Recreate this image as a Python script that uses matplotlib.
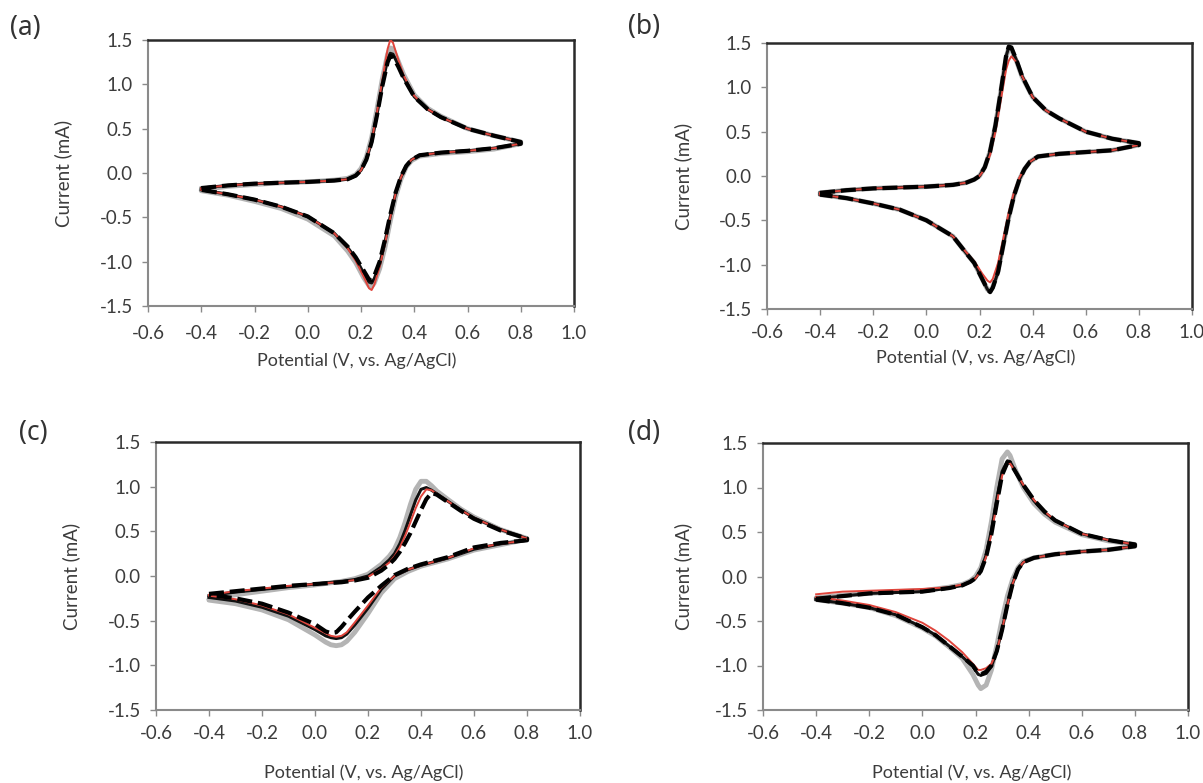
import matplotlib
matplotlib.use("Agg")
import matplotlib.pyplot as plt

plt.rcParams['font.family'] = ['Lato', 'DejaVu Sans']

# ---------------- data ----------------
# Panel (a)
Ea = [-0.4, -0.3, -0.2, -0.1, 0.0, 0.1, 0.15, 0.18, 0.20, 0.22, 0.24, 0.26, 0.28, 0.30, 0.31, 0.32, 0.34, 0.36, 0.40, 0.45, 0.50, 0.60, 0.70, 0.80,
      0.80, 0.70, 0.60, 0.50, 0.42, 0.39, 0.37, 0.35, 0.33, 0.31, 0.29, 0.27, 0.25, 0.24, 0.23, 0.21, 0.18, 0.15, 0.10, 0.0, -0.1, -0.2, -0.3, -0.4]
a_gray = [-0.19, -0.15, -0.13, -0.11, -0.10, -0.08, -0.06, -0.02, 0.05, 0.18, 0.40, 0.72, 1.06, 1.34, 1.41, 1.40, 1.26, 1.11, 0.88, 0.73, 0.64, 0.50, 0.42, 0.35,
          0.33, 0.27, 0.24, 0.22, 0.19, 0.14, 0.07, -0.07, -0.27, -0.54, -0.84, -1.08, -1.24, -1.28, -1.27, -1.18, -1.01, -0.88, -0.71, -0.52, -0.40, -0.32, -0.25, -0.20]
a_black = [-0.17, -0.14, -0.12, -0.11, -0.10, -0.085, -0.07, -0.03, 0.03, 0.15, 0.35, 0.66, 1.00, 1.28, 1.35, 1.34, 1.22, 1.08, 0.86, 0.72, 0.63, 0.50, 0.42, 0.35,
           0.33, 0.28, 0.25, 0.23, 0.20, 0.15, 0.08, -0.05, -0.23, -0.49, -0.78, -1.03, -1.19, -1.24, -1.23, -1.13, -0.96, -0.84, -0.68, -0.49, -0.38, -0.30, -0.24, -0.19]
a_red = [-0.17, -0.14, -0.12, -0.11, -0.10, -0.085, -0.07, -0.03, 0.03, 0.15, 0.36, 0.68, 1.05, 1.40, 1.50, 1.47, 1.28, 1.10, 0.87, 0.72, 0.63, 0.50, 0.42, 0.35,
         0.33, 0.28, 0.25, 0.23, 0.20, 0.15, 0.08, -0.05, -0.23, -0.50, -0.80, -1.06, -1.26, -1.32, -1.30, -1.17, -0.99, -0.85, -0.68, -0.49, -0.38, -0.30, -0.24, -0.19]
a_dash = [-0.17, -0.14, -0.12, -0.11, -0.10, -0.085, -0.07, -0.03, 0.03, 0.15, 0.35, 0.65, 0.98, 1.25, 1.32, 1.31, 1.20, 1.07, 0.86, 0.72, 0.63, 0.50, 0.42, 0.35,
          0.33, 0.28, 0.25, 0.23, 0.20, 0.15, 0.08, -0.04, -0.22, -0.47, -0.75, -1.00, -1.16, -1.21, -1.20, -1.10, -0.95, -0.83, -0.68, -0.49, -0.38, -0.30, -0.24, -0.19]

# Panel (b)
Eb = Ea
b_gray = [-0.19, -0.16, -0.14, -0.13, -0.12, -0.10, -0.075, -0.04, 0.00, 0.10, 0.28, 0.57, 0.95, 1.34, 1.44, 1.43, 1.29, 1.12, 0.89, 0.74, 0.65, 0.50, 0.42, 0.37,
          0.35, 0.29, 0.27, 0.25, 0.22, 0.16, 0.08, -0.04, -0.22, -0.47, -0.77, -1.07, -1.25, -1.30, -1.28, -1.16, -0.98, -0.87, -0.68, -0.50, -0.38, -0.31, -0.25, -0.21]
b_black = [-0.19, -0.16, -0.14, -0.13, -0.12, -0.10, -0.075, -0.04, 0.00, 0.10, 0.28, 0.57, 0.95, 1.35, 1.45, 1.44, 1.30, 1.13, 0.89, 0.74, 0.65, 0.50, 0.42, 0.37,
           0.35, 0.29, 0.27, 0.25, 0.22, 0.16, 0.08, -0.04, -0.22, -0.47, -0.77, -1.08, -1.26, -1.30, -1.28, -1.16, -0.98, -0.87, -0.68, -0.50, -0.38, -0.31, -0.25, -0.21]
b_red = [-0.19, -0.16, -0.14, -0.13, -0.12, -0.10, -0.075, -0.04, 0.00, 0.08, 0.24, 0.50, 0.85, 1.20, 1.30, 1.35, 1.28, 1.13, 0.89, 0.74, 0.65, 0.50, 0.42, 0.37,
         0.35, 0.29, 0.27, 0.25, 0.22, 0.16, 0.09, -0.02, -0.18, -0.41, -0.70, -0.98, -1.16, -1.20, -1.18, -1.10, -0.96, -0.86, -0.68, -0.50, -0.38, -0.31, -0.25, -0.21]
b_dash = [-0.19, -0.16, -0.14, -0.13, -0.12, -0.10, -0.075, -0.04, 0.00, 0.10, 0.28, 0.57, 0.95, 1.35, 1.46, 1.45, 1.30, 1.13, 0.89, 0.74, 0.65, 0.50, 0.42, 0.37,
          0.35, 0.29, 0.27, 0.25, 0.22, 0.16, 0.08, -0.04, -0.22, -0.47, -0.77, -1.08, -1.26, -1.31, -1.28, -1.16, -0.98, -0.87, -0.68, -0.50, -0.38, -0.31, -0.25, -0.21]

# Panel (c)
Ec = [-0.4, -0.3, -0.2, -0.1, 0.0, 0.1, 0.15, 0.2, 0.25, 0.28, 0.30, 0.32, 0.34, 0.36, 0.38, 0.40, 0.42, 0.44, 0.46, 0.50, 0.55, 0.60, 0.70, 0.80,
      0.80, 0.70, 0.60, 0.50, 0.40, 0.35, 0.30, 0.25, 0.20, 0.15, 0.12, 0.10, 0.08, 0.06, 0.04, 0.0, -0.1, -0.2, -0.3, -0.4]
c_gray = [-0.26, -0.21, -0.17, -0.13, -0.10, -0.06, -0.03, 0.02, 0.13, 0.22, 0.30, 0.43, 0.60, 0.80, 0.97, 1.06, 1.06, 1.01, 0.95, 0.86, 0.75, 0.66, 0.52, 0.42,
          0.41, 0.35, 0.29, 0.19, 0.11, 0.05, -0.03, -0.19, -0.42, -0.63, -0.73, -0.77, -0.78, -0.77, -0.74, -0.66, -0.49, -0.38, -0.31, -0.27]
c_black = [-0.22, -0.18, -0.15, -0.12, -0.09, -0.06, -0.04, 0.00, 0.10, 0.18, 0.25, 0.36, 0.51, 0.68, 0.85, 0.97, 0.99, 0.96, 0.92, 0.84, 0.74, 0.65, 0.52, 0.42,
           0.40, 0.36, 0.30, 0.20, 0.12, 0.07, 0.00, -0.15, -0.36, -0.55, -0.65, -0.69, -0.70, -0.69, -0.67, -0.60, -0.45, -0.35, -0.28, -0.24]
c_red = [-0.21, -0.17, -0.14, -0.11, -0.09, -0.065, -0.045, -0.01, 0.08, 0.15, 0.22, 0.32, 0.45, 0.60, 0.76, 0.89, 0.97, 0.96, 0.92, 0.84, 0.74, 0.65, 0.52, 0.42,
         0.40, 0.36, 0.31, 0.20, 0.12, 0.07, 0.00, -0.13, -0.33, -0.52, -0.63, -0.67, -0.68, -0.67, -0.64, -0.58, -0.43, -0.33, -0.26, -0.22]
c_dash = [-0.20, -0.17, -0.14, -0.11, -0.09, -0.07, -0.05, -0.02, 0.06, 0.13, 0.19, 0.27, 0.37, 0.48, 0.61, 0.74, 0.86, 0.93, 0.91, 0.83, 0.73, 0.64, 0.51, 0.42,
          0.40, 0.37, 0.32, 0.21, 0.13, 0.08, 0.01, -0.11, -0.24, -0.40, -0.50, -0.57, -0.63, -0.64, -0.62, -0.54, -0.41, -0.31, -0.25, -0.21]

# Panel (d)
Ed = [-0.4, -0.3, -0.2, -0.1, 0.0, 0.1, 0.15, 0.18, 0.20, 0.22, 0.24, 0.26, 0.28, 0.30, 0.32, 0.33, 0.35, 0.38, 0.42, 0.46, 0.50, 0.60, 0.70, 0.80,
      0.80, 0.70, 0.60, 0.50, 0.42, 0.38, 0.36, 0.34, 0.32, 0.30, 0.28, 0.26, 0.24, 0.22, 0.21, 0.19, 0.15, 0.10, 0.05, 0.0, -0.1, -0.2, -0.3, -0.4]
d_gray = [-0.24, -0.21, -0.19, -0.17, -0.16, -0.12, -0.09, -0.05, 0.00, 0.10, 0.30, 0.62, 1.00, 1.32, 1.40, 1.36, 1.20, 1.00, 0.82, 0.70, 0.61, 0.47, 0.40, 0.36,
          0.34, 0.30, 0.28, 0.25, 0.21, 0.17, 0.10, -0.03, -0.22, -0.48, -0.78, -1.05, -1.22, -1.26, -1.22, -1.10, -0.92, -0.79, -0.67, -0.58, -0.44, -0.35, -0.30, -0.26]
d_black = [-0.25, -0.22, -0.19, -0.18, -0.17, -0.13, -0.10, -0.06, -0.02, 0.07, 0.24, 0.52, 0.87, 1.18, 1.30, 1.29, 1.18, 1.02, 0.85, 0.72, 0.63, 0.48, 0.41, 0.36,
           0.34, 0.30, 0.28, 0.25, 0.21, 0.16, 0.08, -0.08, -0.32, -0.60, -0.84, -1.01, -1.09, -1.11, -1.10, -1.01, -0.90, -0.78, -0.66, -0.57, -0.43, -0.35, -0.30, -0.26]
d_red = [-0.20, -0.17, -0.16, -0.15, -0.14, -0.12, -0.09, -0.06, -0.02, 0.06, 0.22, 0.48, 0.82, 1.13, 1.27, 1.27, 1.18, 1.03, 0.86, 0.73, 0.63, 0.48, 0.41, 0.36,
         0.34, 0.30, 0.28, 0.25, 0.21, 0.16, 0.08, -0.08, -0.32, -0.60, -0.84, -0.98, -1.03, -1.05, -1.05, -0.98, -0.85, -0.72, -0.61, -0.52, -0.40, -0.32, -0.27, -0.23]
d_dash = [-0.25, -0.22, -0.19, -0.18, -0.17, -0.13, -0.10, -0.06, -0.02, 0.06, 0.22, 0.48, 0.82, 1.14, 1.28, 1.28, 1.18, 1.03, 0.86, 0.73, 0.63, 0.48, 0.41, 0.36,
          0.34, 0.30, 0.28, 0.25, 0.21, 0.16, 0.08, -0.08, -0.32, -0.60, -0.84, -1.00, -1.07, -1.10, -1.09, -1.00, -0.90, -0.78, -0.66, -0.57, -0.43, -0.35, -0.30, -0.26]

x_ticks = [-0.6, -0.4, -0.2, 0.0, 0.2, 0.4, 0.6, 0.8, 1.0]
y_ticks = [-1.5, -1.0, -0.5, 0.0, 0.5, 1.0, 1.5]
x_label = "Potential (V, vs. Ag/AgCl)"
y_label = "Current (mA)"
panel_letters = ["(a)", "(b)", "(c)", "(d)"]

# ---------------- figure ----------------
W, H = 1203, 783
fig = plt.figure(figsize=(W / 100, H / 100), dpi=100)

# axes boxes in pixels: left, right, top, bottom
boxes = [(148, 574, 40, 306), (767, 1192, 43, 309), (156, 580, 442, 710), (763, 1188, 443, 710)]
letter_pos = [(25, 28), (644, 27), (33, 433), (644, 433)]
xpads = [10.0, 7.0, 6.5, 7.0]
xlabel_y = [361, 358, 773, 773]
ylabel_x = [63, 683, 71, 683]

panels = [
    (Ea, a_gray, a_black, a_red, a_dash),
    (Eb, b_gray, b_black, b_red, b_dash),
    (Ec, c_gray, c_black, c_red, c_dash),
    (Ed, d_gray, d_black, d_red, d_dash),
]

txt_col = "#3c3c3c"
for i, (box, data) in enumerate(zip(boxes, panels)):
    l, r, t, b = box
    ax = fig.add_axes([l / W, 1 - b / H, (r - l) / W, (b - t) / H])
    E, g, k, rd, ds = data
    ax.plot(E, g, color="#b4b4b4", lw=3.5, solid_joinstyle="round", solid_capstyle="round", zorder=2)
    ax.plot(E, k, color="#111111", lw=2.2, solid_joinstyle="round", zorder=3)
    ax.plot(E, rd, color="#e0453c", lw=1.4, solid_joinstyle="round", zorder=4)
    ax.plot(E, ds, color="black", lw=3.0, linestyle=(0, (3.6, 1.4)), dash_capstyle="butt", zorder=5)

    ax.set_xlim(-0.6, 1.0)
    ax.set_ylim(-1.5, 1.5)
    ax.set_xticks(x_ticks)
    ax.set_yticks(y_ticks)
    ax.set_xticklabels([f"{v:.1f}" for v in x_ticks])
    ax.set_yticklabels([f"{v:.1f}" for v in y_ticks])
    ax.tick_params(axis="both", direction="out", length=4, width=1, color="#8a8a8a",
                   labelsize=13.5, labelcolor=txt_col)
    ax.tick_params(axis="x", pad=xpads[i])
    ax.tick_params(axis="y", pad=7)
    for side in ["top", "right"]:
        ax.spines[side].set_color("#2a2a2a")
        ax.spines[side].set_linewidth(1.8)
    for side in ["left", "bottom"]:
        ax.spines[side].set_color("#8a8a8a")
        ax.spines[side].set_linewidth(1.5)

    ax.set_xlabel(x_label, fontsize=13, color=txt_col)
    ax.xaxis.label.set_va("center")
    ax.xaxis.set_label_coords(0.49, (b - xlabel_y[i]) / (b - t))
    ax.set_ylabel(y_label, fontsize=13.5, color=txt_col)
    ax.yaxis.label.set_va("center")
    ax.yaxis.set_label_coords((ylabel_x[i] - l) / (r - l), 0.5)

    lx, ly = letter_pos[i]
    fig.text(lx / W, 1 - ly / H, panel_letters[i], fontsize=19, color="#333333",
             ha="center", va="center", family=["Noto Sans", "DejaVu Sans"])

fig.savefig("out.png", dpi=100, facecolor="white")
